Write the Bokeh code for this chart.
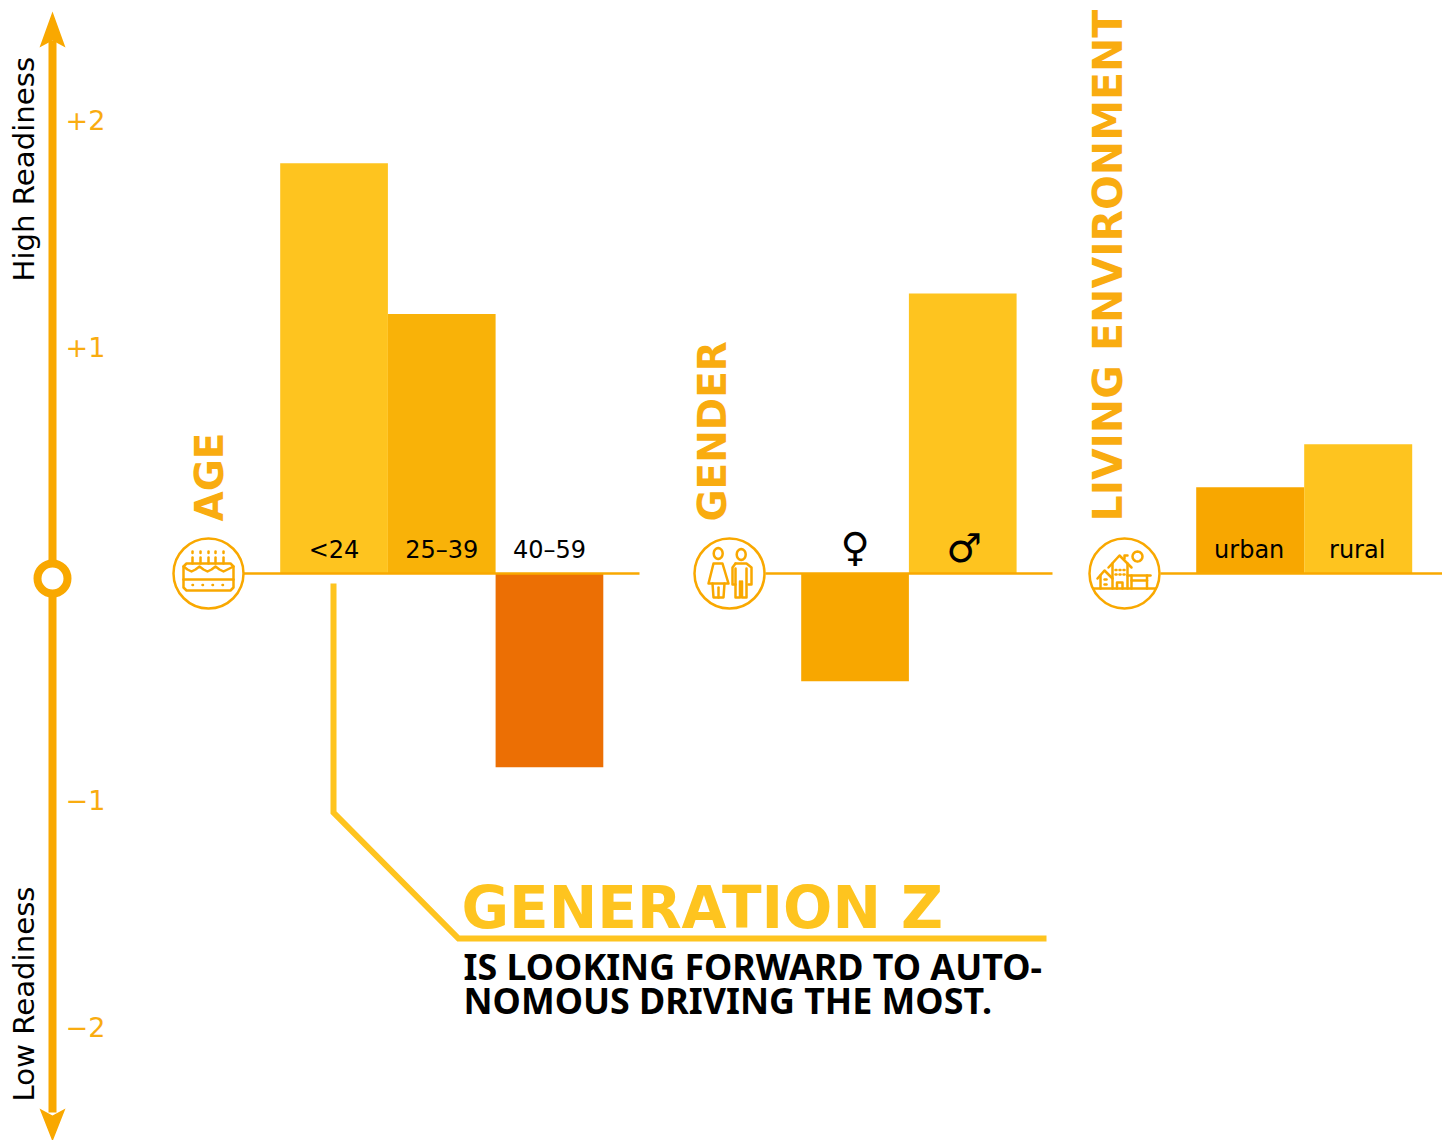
import math
from bokeh.plotting import figure
from bokeh.models import Range1d
from bokeh.core.properties import value
from bokeh.embed import file_html
from bokeh.resources import INLINE

# ---------- data ----------
age_labels = ["<24", "25–39", "40–59"]
age_values = [1.81, 1.145, -0.855]
gender_labels = ["♀", "♂"]
gender_values = [-0.475, 1.235]
env_labels = ["urban", "rural"]
env_values = [0.38, 0.57]
tick_values = [2, 1, -1, -2]
tick_labels = ["+2", "+1", "−1", "−2"]

# ---------- colours ----------
AX = "#F9A800"
YEL = "#FEC41F"
age_colors = ["#FEC41F", "#F9B208", "#EC6F04"]
gender_colors = ["#F8A700", "#FEC41F"]
env_colors = ["#F8A700", "#FEC41F"]
F_BODY = "DejaVu Sans"

# ---------- layout: page-pixel frame ----------
ZERO = 573.0
UNIT = 226.7
W, H = 1442, 1140
p = figure(width=W, height=H, output_backend="svg", toolbar_location=None,
           x_range=Range1d(0, W),
           y_range=Range1d((ZERO - H) / UNIT, ZERO / UNIT),
           x_axis_type=None, y_axis_type=None, min_border=0,
           outline_line_color=None, background_fill_color="white")
p.grid.visible = False
p.extra_y_ranges = {"px": Range1d(H, 0)}
PX = dict(y_range_name="px")

def txt(x, y, s, size, color="#000000", style="normal", angle=0, align="left", base="middle", font=F_BODY):
    p.text([x], [y], text=[s], text_font=value(font), text_font_size=f"{size}px",
           text_color=color, text_font_style=style, angle=angle,
           text_align=align, text_baseline=base, **PX)

# ---------- bars ----------
def bars(x0, w, values, colors):
    lefts = [x0 + i * w for i in range(len(values))]
    p.quad(left=lefts, right=[l + w for l in lefts], bottom=[0] * len(values),
           top=values, fill_color=colors, line_color=None)
    return [l + w / 2 for l in lefts]

BW = 108
age_x = bars(279.7, BW - 0.3, age_values, age_colors)
gen_x = bars(800.7, BW - 0.3, gender_values, gender_colors)
env_x = bars(1195.7, BW, env_values, env_colors)

# ---------- baselines ----------
for a, b in [(243, 639), (765, 1052), (1160, 1442)]:
    p.line([a, b], [ZERO, ZERO], line_color=AX, line_width=2.5, **PX)

# ---------- value axis ----------
p.line([52, 52], [40, 1112], line_color=AX, line_width=8, **PX)
p.patch([52, 65, 52, 39], [11, 47, 40, 47], fill_color=AX, line_color=None, **PX)
p.patch([52, 65, 52, 39], [1141, 1108, 1115, 1108], fill_color=AX, line_color=None, **PX)
p.scatter([52], [578], size=30, marker="circle", fill_color="white", line_color=AX, line_width=8, **PX)
p.text([85] * 4, tick_values, text=tick_labels, text_font=value(F_BODY), text_font_size="27px",
       text_color="#F9AC10", text_align="center", text_baseline="middle")

txt(23.5, 281, "High Readiness", 29.2, angle=math.pi / 2)
txt(23.5, 1101, "Low Readiness", 29.2, angle=math.pi / 2)

# ---------- group titles ----------
for x, s, size in [(208.5, "AGE", 39), (711.5, "GENDER", 39), (1107, "LIVING ENVIRONMENT", 41)]:
    txt(x, 521, s, size, color="#F9AC10", style="bold", angle=math.pi / 2)

# ---------- category labels ----------
for x, s in zip(age_x, age_labels):
    txt(x, 549, s, 24, align="center")
for x, s in zip(env_x, env_labels):
    txt(x - 1, 549, s, 24, align="center")
txt(gen_x[0], 546, gender_labels[0], 40, align="center")
txt(gen_x[1] + 1.5, 547, gender_labels[1], 40, align="center")

# ---------- callout ----------
p.line([333, 333, 458, 1046], [583, 812, 938, 938], line_color=YEL, line_width=6, line_join="miter", **PX)
txt(461, 907, "GENERATION Z", 58, color=YEL, style="bold")
txt(463, 965, "IS LOOKING FORWARD TO AUTO-", 35.8, style="bold", font="Noto Sans")
txt(463, 999, "NOMOUS DRIVING THE MOST.", 35.8, style="bold", font="Noto Sans")

# ---------- icons ----------
def icon_ring(cx, cy=573):
    p.scatter([cx], [cy], size=70, marker="circle", fill_color="white", line_color=AX, line_width=2.5, **PX)

def ln(xs, ys, w=2.5):
    p.line(xs, ys, line_color=AX, line_width=w, line_join="round", line_cap="round", **PX)

# cake
icon_ring(208)
ln([186, 230, 233, 233, 230, 186, 183, 183, 186], [563, 563, 566, 587, 590, 590, 587, 566, 563])
ln([183, 233], [579, 579])
ln([183, 187, 191, 195, 199, 203, 207, 211, 215, 219, 223, 227, 233],
   [566, 569, 571, 569, 566, 569, 571, 569, 566, 569, 571, 569, 566])
for x in [192, 200, 208, 215, 223]:
    ln([x, x], [557, 563])
    ln([x, x], [551, 552.5])
for x in [192, 202, 212, 222]:
    ln([x, x + 0.5], [584.5, 584.5])

# people
icon_ring(729)
a = [i * math.pi / 8 for i in range(17)]
ln([717.7 + 4.5 * math.cos(t) for t in a], [553 + 5.5 * math.sin(t) for t in a])
ln([740.7 + 4.5 * math.cos(t) for t in a], [554 + 5.5 * math.sin(t) for t in a])
ln([713, 722, 728, 708, 713], [563, 563, 583, 583, 563])
ln([712, 713, 723, 724], [583, 597, 597, 583])
ln([718, 718], [587, 597])
ln([735, 746, 751, 751, 748], [563, 563, 567, 584, 584])
ln([735, 732, 732, 735], [563, 567, 584, 584])
ln([735, 735, 739.5, 739.5], [568, 597, 597, 581])
ln([746, 746, 741.5, 741.5], [568, 597, 597, 581])

# houses
icon_ring(1124)
ln([1093, 1155], [588, 588])
ln([1137 + 5 * math.cos(t) for t in a], [556 + 5 * math.sin(t) for t in a])
ln([1108, 1119, 1131], [567, 555, 567])
ln([1124, 1124, 1127], [558, 555, 555])
ln([1112, 1112], [563, 588])
ln([1127, 1127], [563, 588])
for x in [1115, 1119, 1123]:
    for y in [569.5, 574]:
        ln([x, x + 1], [y, y], 2.5)
ln([1116.5, 1116.5, 1122, 1122], [588, 582, 582, 588])
ln([1097, 1104, 1112], [578, 570, 578])
ln([1100, 1100], [575, 588])
for y in [579, 584]:
    ln([1104, 1106], [y, y], 2.5)
ln([1127, 1150], [575, 575])
ln([1131, 1131], [575, 588])
ln([1146.5, 1146.5], [575, 588])
ln([1131, 1146.5], [580, 580])

open("out.html", "w").write(file_html(p, INLINE))
